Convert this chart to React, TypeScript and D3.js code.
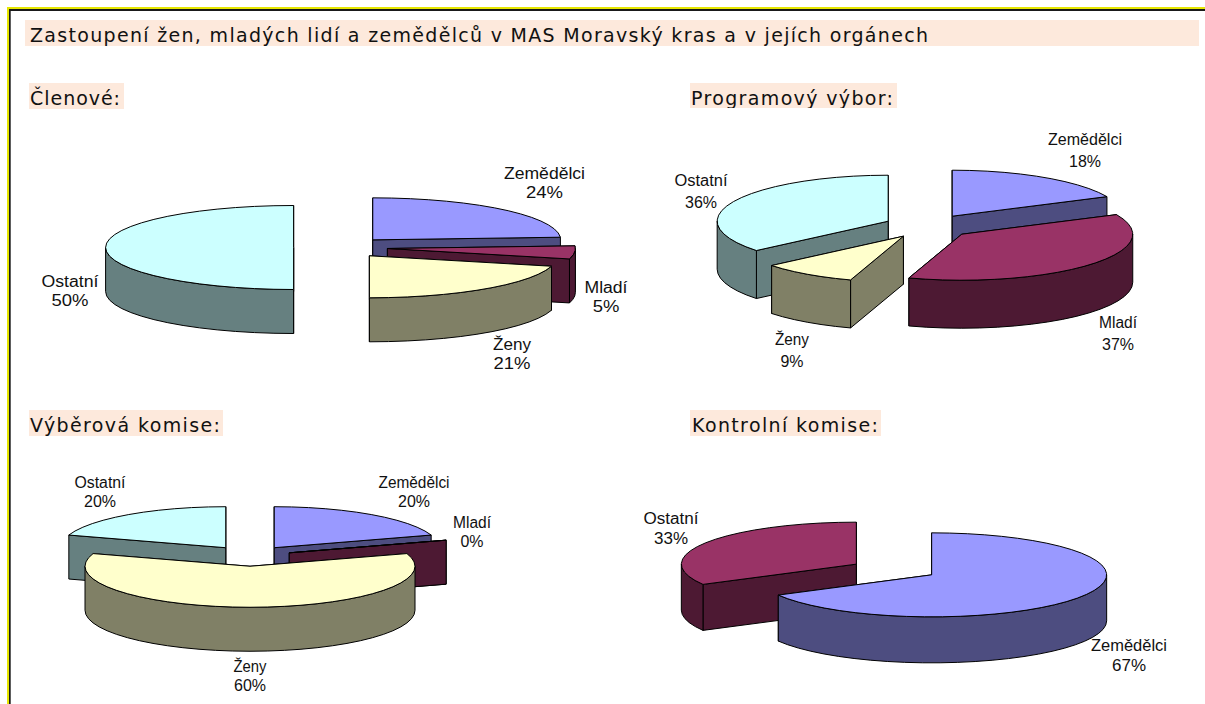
import React, { useRef, useEffect } from "react";
import * as d3 from "d3";

const width = 1205;
const height = 704;

const TAU = Math.PI * 2;

// one set of values per pie, always clockwise from 12 o'clock
const memberLabels = ["Zemědělci", "Mladí", "Ženy", "Ostatní"];
const memberValues = [24, 5, 21, 50];
const programLabels = ["Zemědělci", "Mladí", "Ženy", "Ostatní"];
const programValues = [18, 37, 9, 36];
const selectionLabels = ["Zemědělci", "Mladí", "Ženy", "Ostatní"];
const selectionValues = [20, 0, 60, 20];
const controlLabels = ["Zemědělci", "Ostatní"];
const controlValues = [67, 33];

const sliceColors = {
  blue: ["#9999ff", "#4d4d80"],
  plum: ["#993366", "#4d1933"],
  cream: ["#ffffcc", "#808066"],
  cyan: ["#ccffff", "#668080"],
};
const fourColors = [sliceColors.blue, sliceColors.plum, sliceColors.cream, sliceColors.cyan];
const twoColors = [sliceColors.blue, sliceColors.plum];

const headings = [
  { text: "Členové:", x: 29, y: 83, w: 95, h: 26, tx: 30, len: 90 },
  { text: "Programový výbor:", x: 690, y: 83, w: 207, h: 25, tx: 691, len: 202 },
  { text: "Výběrová komise:", x: 29, y: 410, w: 194, h: 26, tx: 30, len: 190 },
  { text: "Kontrolní komise:", x: 690, y: 410, w: 191, h: 26, tx: 692, len: 186 },
];

const pies = [
  {
    labels: memberLabels, values: memberValues, colors: fourColors,
    cx: 340.6, cy: 247.5, rx: 188, ry: 42, depth: 44, explode: 0.25,
    labelPos: [[544.5, 173], [606, 287], [512, 344], [70, 281]],
    nameWidths: [81, 43, 38, 57], pctWidth: 37, lineGap: 19,
  },
  {
    labels: programLabels, values: programValues, colors: fourColors,
    cx: 928.4, cy: 226.3, rx: 171, ry: 46, depth: 48, explode: 0.26,
    labelPos: [[1085, 139], [1118, 322], [792, 339], [701, 180]],
    nameWidths: [74, 38, 34, 53], pctWidth: 32, lineGap: 22,
  },
  {
    labels: selectionLabels, values: selectionValues, colors: fourColors,
    cx: 250, cy: 556, rx: 165, ry: 41, depth: 44, explode: 0.25,
    labelPos: [[414, 482], [472, 522], [250, 666], [100, 482]],
    nameWidths: [71, 38, 33, 51], pctWidth: 32, lineGap: 19,
  },
  {
    labels: controlLabels, values: controlValues, colors: twoColors,
    cx: 894, cy: 569.5, rx: 175, ry: 42, depth: 46, explode: 0.25,
    labelPos: [[1129, 645], [671, 518]],
    nameWidths: [76, 55], pctWidth: 34, lineGap: 20,
  },
];

function drawPie(g, spec) {
  const { cx, cy, rx, ry, depth, explode } = spec;
  const total = d3.sum(spec.values);

  const slices = d3
    .pie()
    .sort(null)
    .value((d) => d)(spec.values)
    .map((d, i) => ({ ...d, i, mid: (d.startAngle + d.endAngle) / 2 }));

  const line = d3.line();
  const drawn = slices
    .map((s) => ({
      ...s,
      ox: cx + explode * rx * Math.sin(s.mid),
      oy: cy - explode * ry * Math.cos(s.mid),
    }))
    .sort((a, b) => a.oy - b.oy);

  drawn.forEach((s) => {
    const px = (a) => s.ox + rx * Math.sin(a);
    const py = (a) => s.oy - ry * Math.cos(a);
    const [top, side] = spec.colors[s.i];
    const arcAngles = (a0, a1) => {
      const n = Math.max(1, Math.ceil((a1 - a0) / (TAU / 60)));
      return d3.range(n + 1).map((k) => a0 + ((a1 - a0) * k) / n);
    };
    const style = (sel, fill) =>
      sel.attr("fill", fill).attr("stroke", "#000").attr("stroke-width", 1).attr("stroke-linejoin", "round");

    // the two cut faces
    [s.startAngle, s.endAngle]
      .sort((a, b) => Math.cos(b) - Math.cos(a))
      .forEach((a) => {
        const pts = [
          [s.ox, s.oy],
          [px(a), py(a)],
          [px(a), py(a) + depth],
          [s.ox, s.oy + depth],
        ];
        style(g.append("path").attr("d", line(pts) + "Z"), side);
      });

    // outer wall, only the part facing the viewer
    const a0 = Math.max(s.startAngle, Math.PI / 2);
    const a1 = Math.min(s.endAngle, (Math.PI * 3) / 2);
    if (a1 > a0) {
      const angles = arcAngles(a0, a1);
      const pts = [
        ...angles.map((a) => [px(a), py(a)]),
        ...angles.slice().reverse().map((a) => [px(a), py(a) + depth]),
      ];
      style(g.append("path").attr("d", line(pts) + "Z"), side);
    }

    // top face
    const rim = arcAngles(s.startAngle, s.endAngle).map((a) => [px(a), py(a)]);
    style(g.append("path").attr("d", line([[s.ox, s.oy], ...rim]) + "Z"), top);
  });

  // labels go on top of every slice
  slices.forEach((s) => {
    const [lx, ly] = spec.labelPos[s.i];
    const pct = d3.format(".0f")((s.data / total) * 100) + "%";
    const addLine = (str, y, w) =>
      g
        .append("text")
        .attr("x", lx)
        .attr("y", y)
        .attr("text-anchor", "middle")
        .attr("font-family", "'Liberation Sans', Arial, sans-serif")
        .attr("font-size", 16)
        .attr("textLength", w)
        .attr("lengthAdjust", "spacingAndGlyphs")
        .attr("fill", "#111")
        .text(str);
    addLine(spec.labels[s.i], ly + 6, spec.nameWidths[s.i]);
    // pctWidth is for two digits, a single digit label is about 0.72 of that
    addLine(pct, ly + 6 + spec.lineGap, pct.length < 3 ? spec.pctWidth * 0.72 : spec.pctWidth);
  });
}

export default function App() {
  const ref = useRef(null);

  useEffect(() => {
    const svg = d3.select(ref.current);
    svg.selectAll("*").remove();

    svg.append("rect").attr("width", width).attr("height", height).attr("fill", "#fff");

    // page frame: yellow outside, black inside, open on the right and bottom
    svg.append("rect").attr("x", 7).attr("y", 7).attr("width", width - 7).attr("height", 2).attr("fill", "#e6e600");
    svg.append("rect").attr("x", 7).attr("y", 7).attr("width", 2).attr("height", height - 7).attr("fill", "#e6e600");
    svg.append("rect").attr("x", 9).attr("y", 9).attr("width", width - 9).attr("height", 2).attr("fill", "#1a1a1a");
    svg.append("rect").attr("x", 9).attr("y", 9).attr("width", 1.7).attr("height", height - 9).attr("fill", "#1a1a1a");

    const textFont = "'DejaVu Sans', Verdana, sans-serif";

    svg.append("rect").attr("x", 25).attr("y", 20).attr("width", 1174).attr("height", 26).attr("fill", "#fde9dc");
    svg
      .append("text")
      .attr("x", 30)
      .attr("y", 42)
      .attr("font-family", textFont)
      .attr("font-size", 19)
      .attr("textLength", 898)
      .attr("fill", "#111")
      .text("Zastoupení žen, mladých lidí a zemědělců v MAS Moravský kras a v jejích orgánech");

    // heading text is cut off at the bottom of its coloured band
    const defs = svg.append("defs");
    headings.forEach((h, i) => {
      defs
        .append("clipPath")
        .attr("id", `band-${i}`)
        .append("rect")
        .attr("x", h.x)
        .attr("y", h.y)
        .attr("width", h.w)
        .attr("height", h.h);
      svg.append("rect").attr("x", h.x).attr("y", h.y).attr("width", h.w).attr("height", h.h).attr("fill", "#fde9dc");
      svg
        .append("text")
        .attr("x", h.tx)
        .attr("y", h.y + 22)
        .attr("clip-path", `url(#band-${i})`)
        .attr("font-family", textFont)
        .attr("font-size", 19)
        .attr("textLength", h.len)
        .attr("fill", "#111")
        .text(h.text);
    });

    pies.forEach((spec) => drawPie(svg.append("g"), spec));
  }, []);

  return (
    <svg
      ref={ref}
      width={width}
      height={height}
      style={{ position: "absolute", left: 0, top: 0 }}
    />
  );
}
